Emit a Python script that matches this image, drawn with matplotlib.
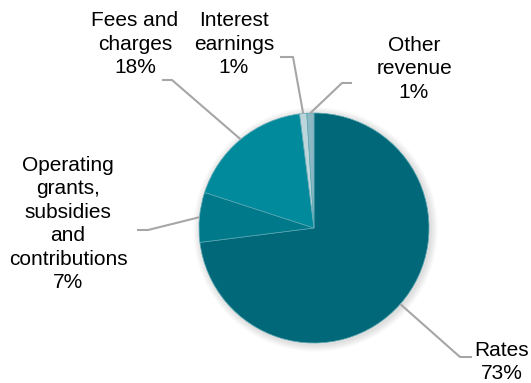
import numpy as np
import matplotlib.pyplot as plt

plt.rcParams['font.family'] = ['Liberation Sans', 'DejaVu Sans']

# 收入构成
labels = ['Rates', 'Operating\ngrants,\nsubsidies\nand\ncontributions', 'Fees and\ncharges',
          'Interest\nearnings', 'Other\nrevenue']
shares = [73, 7, 18, 1, 1]
colors = ['#006878', '#007a8a', '#008a9c', '#bcd6dc', '#8cb8c3']

W, H = 531, 383
fig = plt.figure(figsize=(W / 100, H / 100), dpi=100)
ax = fig.add_axes([0, 0, 1, 1])


def py(y):
    # 像素坐标(向下) -> 数据坐标(向上)
    return H - y


cx, cy, r = 314, py(228), 115

# 柔和阴影
for k in range(8):
    c = plt.Circle((cx + 1.5, cy - 1.5), r + 1 + k * 0.9, color='black',
                   alpha=0.014, lw=0, zorder=1)
    ax.add_patch(c)

wedges, _ = ax.pie(shares, colors=colors, startangle=90, counterclock=False,
                   center=(cx, cy), radius=r, frame=True,
                   wedgeprops=dict(edgecolor='#5aa7b3', linewidth=0.5, zorder=2))
ax.set_xlim(0, W)
ax.set_ylim(0, H)
ax.axis('off')

# 标签位置 (文字中心, 折线拐点)
text_pos = [(502, 362), (68, 224), (135, 44), (234, 44), (414, 69)]
elbows = [[(472, 357), (460, 357)],
          [(137, 230), (148, 230)],
          [(162, 80), (172, 80)],
          [(280, 57), (293, 57)],
          [(352, 83), (342, 83)]]

cum = np.cumsum([0] + shares)
for i, w in enumerate(wedges):
    mid = 90 - (cum[i] + shares[i] / 2) / 100 * 360
    ex = cx + r * np.cos(np.radians(mid))
    ey = cy + r * np.sin(np.radians(mid))
    pts = [(x, py(y)) for x, y in elbows[i]] + [(ex, ey)]
    ax.plot([p[0] for p in pts], [p[1] for p in pts], color='#a6a6a6', lw=1.5,
            zorder=3, solid_capstyle='butt')
    tx, ty = text_pos[i]
    ax.text(tx, py(ty), f'{labels[i]}\n{shares[i]}%', ha='center', va='center',
            multialignment='center', fontsize=15, linespacing=1.3, color='#000000')

fig.savefig('out.png', dpi=100)
